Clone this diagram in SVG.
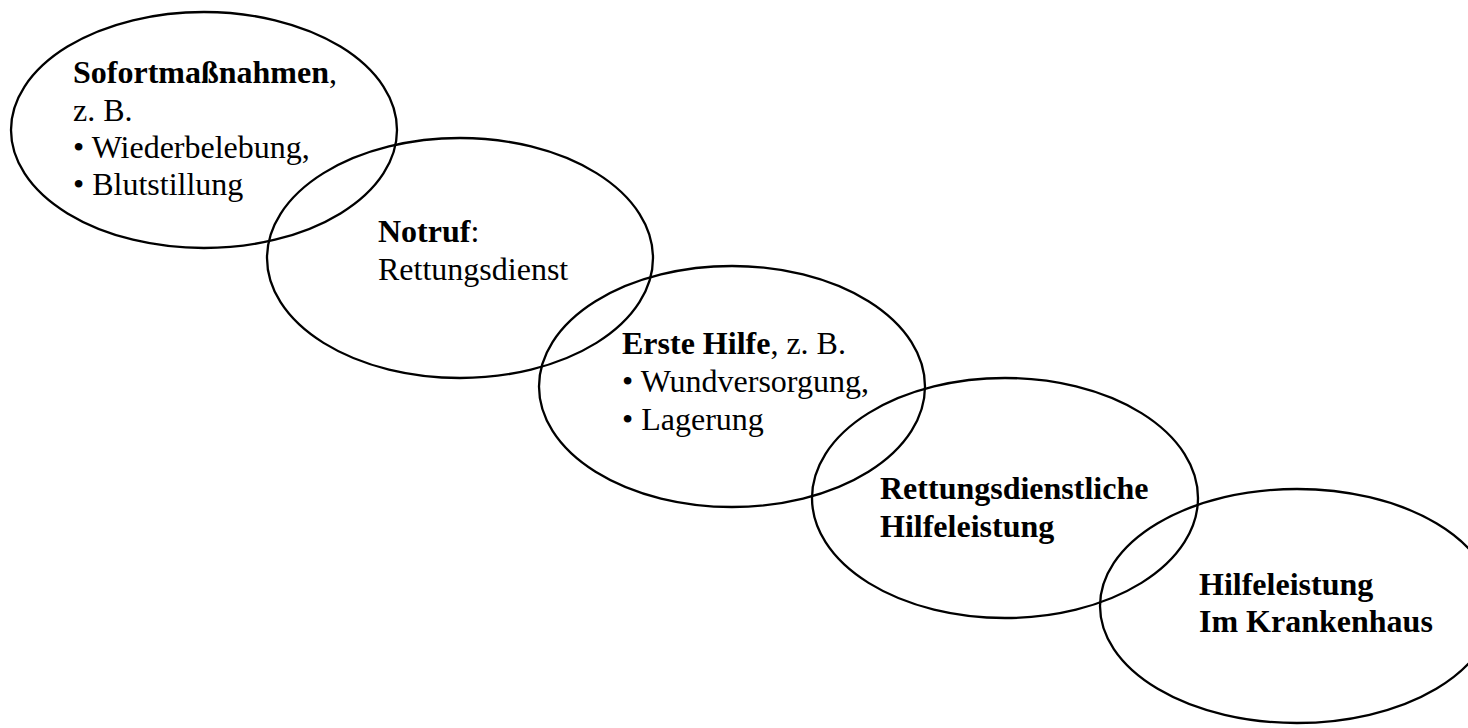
<svg xmlns="http://www.w3.org/2000/svg" width="1468" height="728" viewBox="0 0 1468 728">
<style>
.e{fill:none;stroke:#000;stroke-width:2.3}
text{font-family:"Liberation Serif","Times New Roman",serif;font-size:32px;fill:#000}
.b{font-weight:bold}
</style>
<rect width="1468" height="728" fill="#fff"/>
<g id="n1">
<ellipse class="e" cx="204" cy="130" rx="193" ry="118"/>
<text x="73" y="83"><tspan class="b">Sofortmaßnahmen</tspan>,</text>
<text x="73" y="121">z. B.</text>
<text x="73" y="158">• Wiederbelebung,</text>
<text x="73" y="195">• Blutstillung</text>
</g>
<g id="n2">
<ellipse class="e" cx="460" cy="258" rx="193" ry="120"/>
<text x="378" y="242"><tspan class="b">Notruf</tspan>:</text>
<text x="378" y="280">Rettungsdienst</text>
</g>
<g id="n3">
<ellipse class="e" cx="732" cy="386.5" rx="193" ry="120.5"/>
<text x="622" y="354"><tspan class="b">Erste Hilfe</tspan>, z. B.</text>
<text x="622" y="392">• Wundversorgung,</text>
<text x="622" y="430">• Lagerung</text>
</g>
<g id="n4">
<ellipse class="e" cx="1005" cy="498" rx="193" ry="120"/>
<text class="b" x="880" y="499">Rettungsdienstliche</text>
<text class="b" x="880" y="537">Hilfeleistung</text>
</g>
<g id="n5">
<ellipse class="e" cx="1297" cy="606" rx="197" ry="117"/>
<text class="b" x="1199" y="595">Hilfeleistung</text>
<text class="b" x="1199" y="632">Im Krankenhaus</text>
</g>
<g id="connectors"></g>
</svg>
